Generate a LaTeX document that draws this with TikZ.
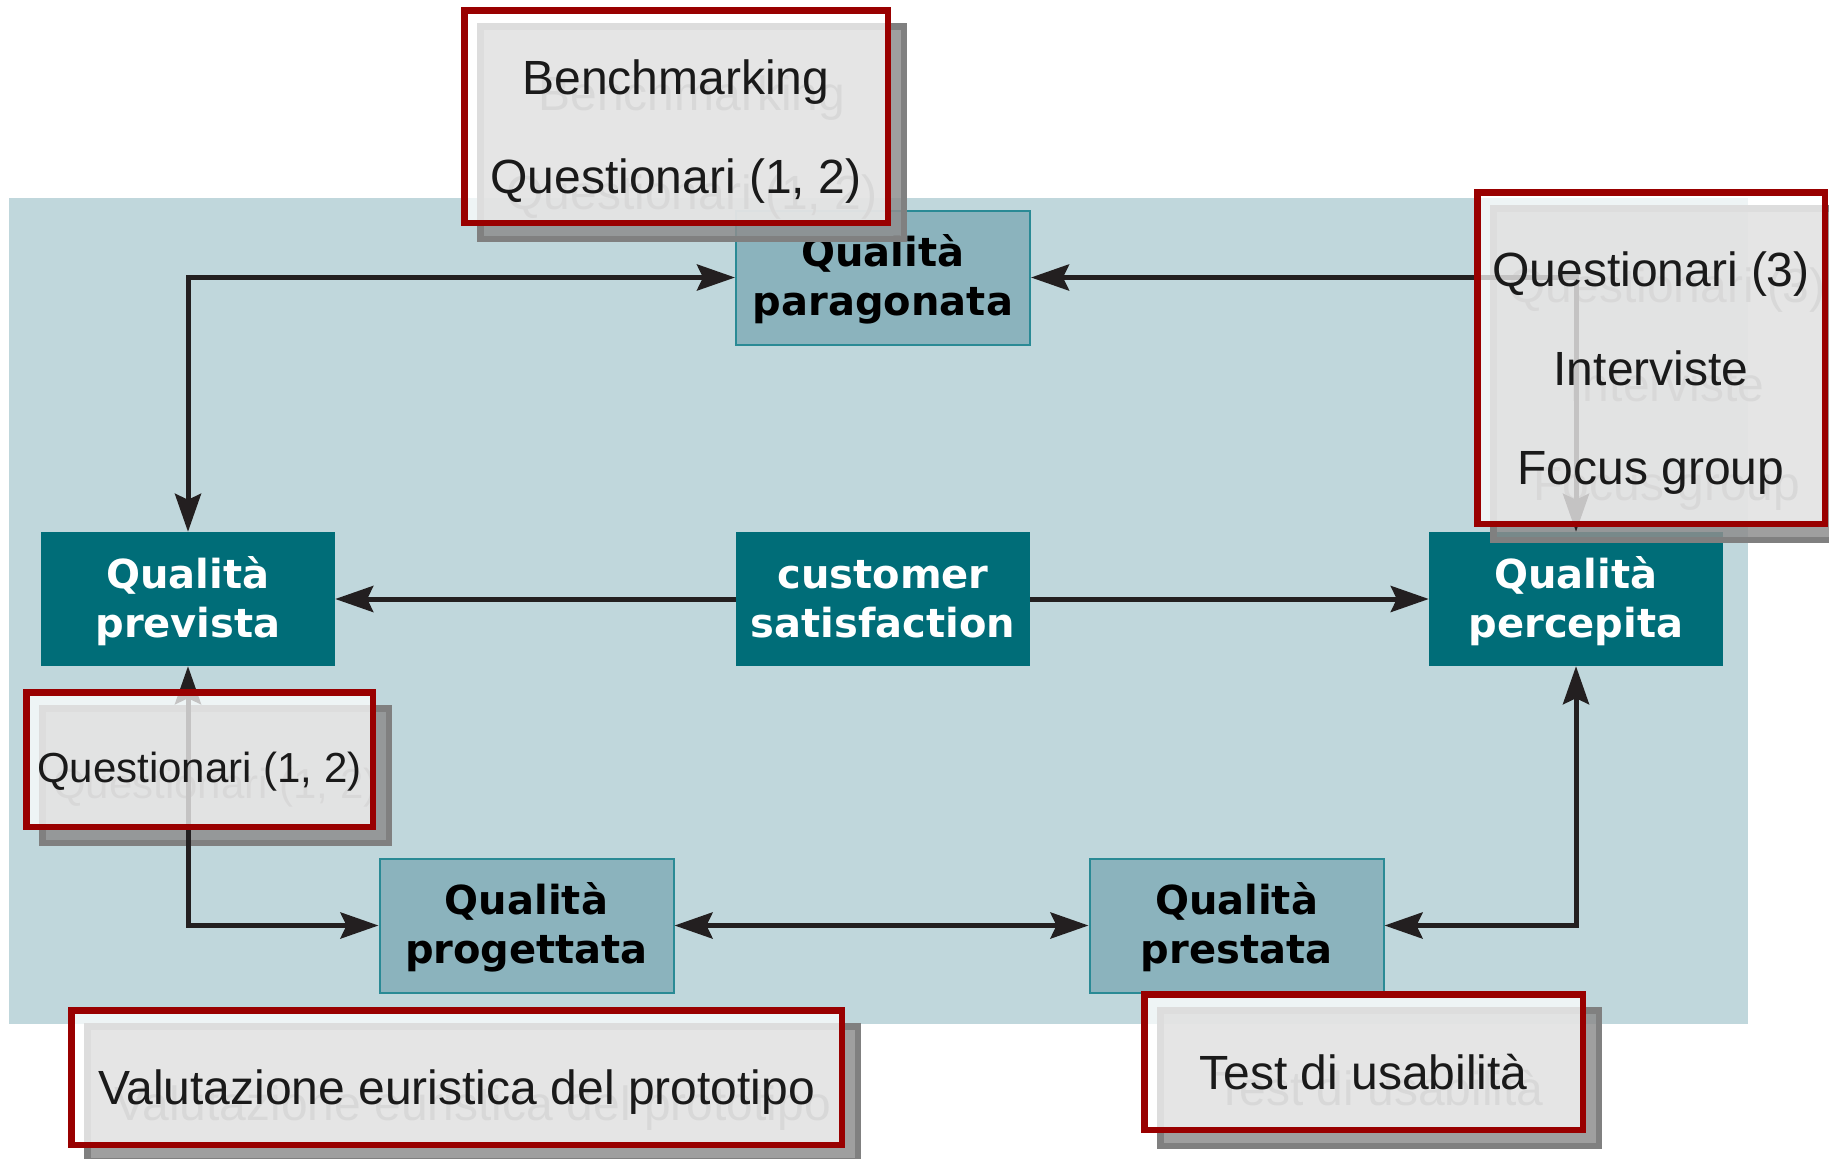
\documentclass[tikz,border=0pt]{standalone}
\usepackage{fontspec}
\setmainfont{Liberation Sans}
\newfontfamily\labelfont{DejaVu Sans}
\usetikzlibrary{arrows.meta}

\definecolor{panelblue}{HTML}{C0D7DC}
\definecolor{tealdark}{HTML}{006D78}
\definecolor{teallight}{HTML}{8BB3BD}
\definecolor{tealedge}{HTML}{2A8A95}
\definecolor{framered}{HTML}{990000}
\definecolor{arrowink}{HTML}{231F20}
\definecolor{shadefill}{HTML}{8E8E8E}
\definecolor{shadeedge}{HTML}{808080}
\definecolor{shadetext}{HTML}{707070}
\definecolor{notetext}{HTML}{1A1A1A}

% struts keep the two-line labels and the notes on fixed baselines
\newcommand{\boxstrut}{\rule[-10pt]{0pt}{47pt}}
\newcommand{\notestrut}{\rule[-12pt]{0pt}{78pt}}
\newcommand{\smallstrut}{\rule[-12pt]{0pt}{69pt}}

\begin{document}
\begin{tikzpicture}[x=1pt,y=-1pt,
  qbox/.style={rectangle, minimum width=294pt, minimum height=134pt,
    inner sep=0pt, align=center,
    font=\labelfont\bfseries\fontsize{40}{49}\selectfont},
  qdark/.style={qbox, fill=tealdark, text=white},
  qlight/.style={qbox, fill=teallight, draw=tealedge, line width=2pt, text=black},
  twoway/.style={draw=arrowink, line width=5pt, {Stealth[length=38pt,width=26pt,inset=6pt]}-{Stealth[length=38pt,width=26pt,inset=6pt]}},
  oneway/.style={draw=arrowink, line width=5pt, -{Stealth[length=38pt,width=26pt,inset=6pt]}},
  note/.style={rectangle, inner sep=0pt, align=center,
    font=\fontsize{48}{99}\selectfont},
  smallnote/.style={font=\fontsize{42}{99}\selectfont},
  noteshade/.style={note, fill=shadefill, fill opacity=0.85, text opacity=1,
    draw=shadeedge, line width=6.5pt, text=shadetext},
  notefront/.style={note, fill=white, fill opacity=0.735, text opacity=1,
    draw=framered, line width=6.5pt, text=notetext},
]
\useasboundingbox (0,0) rectangle (1829,1159);
\clip (0,0) rectangle (1829,1159);

% light blue panel behind the quality model
\fill[panelblue] (9,198) rectangle (1748,1024);

% quality boxes
\node[qlight] (paragonata) at (883,277.5) {\boxstrut Qualità\\\boxstrut paragonata};
\node[qdark]  (prevista)   at (188,599)   {\boxstrut Qualità\\\boxstrut prevista};
\node[qdark]  (customer)   at (883,599)   {\boxstrut customer\\\boxstrut satisfaction};
\node[qdark]  (percepita)  at (1576,599)  {\boxstrut Qualità\\\boxstrut percepita};
\node[qlight] (progettata) at (526.5,925.5) {\boxstrut Qualità\\\boxstrut progettata};
\node[qlight] (prestata)   at (1236.5,925.5) {\boxstrut Qualità\\\boxstrut prestata};

% drop shadows of the method notes
\node[noteshade, minimum width=423.5pt, minimum height=212.5pt] (bench-sh) at (692,132.5)
  {\notestrut Benchmarking\\\notestrut Questionari (1, 2)};
\node[noteshade, minimum width=347.5pt, minimum height=331.5pt] (interv-sh) at (1667,374)
  {\notestrut Questionari (3)\\\notestrut Interviste\\\notestrut Focus group};
\node[noteshade, smallnote, minimum width=346.5pt, minimum height=134.5pt] (quest-sh) at (215.5,775.5)
  {\smallstrut Questionari (1, 2)};
\node[noteshade, minimum width=770.5pt, minimum height=134.5pt] (euri-sh) at (472.5,1093.5)
  {\notestrut Valutazione euristica del prototipo};
\node[noteshade, minimum width=438.5pt, minimum height=135.5pt] (test-sh) at (1379.5,1078)
  {\notestrut Test di usabilità};

% connectors
\draw[twoway] (paragonata.west) -| (prevista.north);
\draw[twoway] (paragonata.east) -| (percepita.north);
\draw[oneway] (customer.west) -- (prevista.east);
\draw[oneway] (customer.east) -- (percepita.west);
\draw[twoway] (prevista.south) |- (progettata.west);
\draw[twoway] (progettata.east) -- (prestata.west);
\draw[twoway] (prestata.east) -| (percepita.south);

% method notes
\node[notefront, minimum width=423.5pt, minimum height=212.5pt] (bench) at (676,116.5)
  {\notestrut Benchmarking\\\notestrut Questionari (1, 2)};
\node[notefront, minimum width=347.5pt, minimum height=331.5pt] (interv) at (1651,358)
  {\notestrut Questionari (3)\\\notestrut Interviste\\\notestrut Focus group};
\node[notefront, smallnote, minimum width=346.5pt, minimum height=134.5pt] (quest) at (199.5,759.5)
  {\smallstrut Questionari (1, 2)};
\node[notefront, minimum width=770.5pt, minimum height=134.5pt] (euri) at (456.5,1077.5)
  {\notestrut Valutazione euristica del prototipo};
\node[notefront, minimum width=438.5pt, minimum height=135.5pt] (test) at (1363.5,1062)
  {\notestrut Test di usabilità};
\end{tikzpicture}
\end{document}
